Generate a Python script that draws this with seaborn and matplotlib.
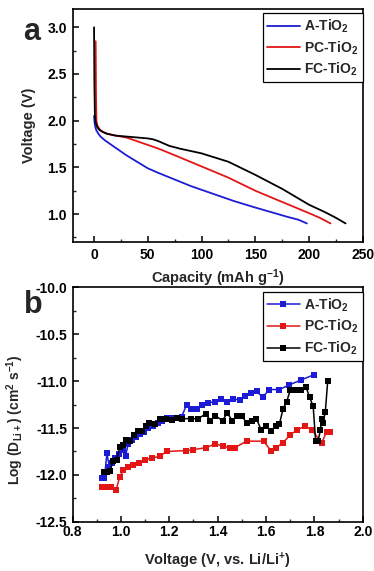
import matplotlib as mpl
mpl.use('Agg')
import matplotlib.pyplot as plt
import seaborn as sns
import pandas as pd
from matplotlib.ticker import MultipleLocator

# ---- panel a: discharge curves ----
cap_A = [0, 0.5, 1, 2, 4, 6, 8, 10, 15, 20, 25, 30, 40, 50, 60, 75, 90, 100,
         115, 130, 150, 165, 180, 190, 198]
volt_A = [2.05, 1.98, 1.94, 1.90, 1.86, 1.83, 1.81, 1.79, 1.75, 1.71, 1.67, 1.63,
          1.56, 1.49, 1.44, 1.37, 1.30, 1.26, 1.20, 1.14, 1.07, 1.02, 0.97, 0.94, 0.90]

cap_PC = [1.5, 1.8, 2.2, 3, 5, 8, 12, 20, 30, 40, 50, 60, 75, 100, 125, 150,
          175, 200, 210, 220]
volt_PC = [2.85, 2.3, 2.0, 1.95, 1.91, 1.88, 1.86, 1.84, 1.82, 1.78, 1.74, 1.70,
           1.63, 1.51, 1.39, 1.25, 1.13, 1.01, 0.96, 0.90]

cap_FC = [0, 0.3, 0.8, 1.5, 3, 5, 8, 12, 20, 30, 40, 50, 55, 60, 70, 80, 100,
          125, 150, 175, 200, 215, 225, 234]
volt_FC = [3.0, 2.4, 2.05, 1.98, 1.93, 1.90, 1.88, 1.86, 1.84, 1.83, 1.82, 1.81,
           1.80, 1.78, 1.73, 1.70, 1.65, 1.56, 1.42, 1.27, 1.10, 1.02, 0.96, 0.90]

# ---- panel b: diffusion coefficients ----
v_A = [0.923, 0.932, 0.942, 0.952, 0.963, 0.975, 0.993, 1.010, 1.019, 1.030, 1.044,
       1.062, 1.079, 1.097, 1.113, 1.134, 1.152, 1.168, 1.189, 1.210, 1.230, 1.251,
       1.272, 1.288, 1.313, 1.337, 1.361, 1.389, 1.414, 1.437, 1.462, 1.492, 1.513,
       1.537, 1.561, 1.586, 1.614, 1.655, 1.697, 1.743, 1.800]
d_A = [-12.03, -12.03, -11.77, -11.91, -11.87, -11.82, -11.78, -11.73, -11.80, -11.67,
       -11.63, -11.60, -11.56, -11.54, -11.50, -11.48, -11.45, -11.43, -11.39, -11.39,
       -11.39, -11.38, -11.25, -11.30, -11.30, -11.26, -11.23, -11.22, -11.19, -11.22,
       -11.19, -11.20, -11.16, -11.13, -11.11, -11.17, -11.09, -11.09, -11.04, -10.99,
       -10.93]

v_PC = [0.92, 0.93, 0.94, 0.95, 0.96, 0.98, 0.995, 1.01, 1.03, 1.05, 1.075, 1.10,
        1.13, 1.16, 1.19, 1.27, 1.30, 1.35, 1.39, 1.42, 1.45, 1.47, 1.52, 1.59,
        1.62, 1.64, 1.67, 1.70, 1.73, 1.76, 1.79, 1.83, 1.85, 1.865]
d_PC = [-12.13, -12.13, -12.13, -12.13, -12.13, -12.16, -12.02, -11.95, -11.91,
        -11.89, -11.87, -11.84, -11.82, -11.80, -11.75, -11.74, -11.73, -11.71,
        -11.67, -11.69, -11.71, -11.71, -11.64, -11.64, -11.74, -11.71, -11.66,
        -11.57, -11.52, -11.48, -11.52, -11.66, -11.54, -11.54]

v_FC = [0.931, 0.942, 0.954, 0.968, 0.982, 0.996, 1.010, 1.021, 1.037, 1.054, 1.072,
        1.086, 1.103, 1.117, 1.141, 1.161, 1.186, 1.210, 1.230, 1.251, 1.29, 1.32,
        1.35, 1.37, 1.39, 1.42, 1.44, 1.46, 1.48, 1.50, 1.52, 1.54, 1.56, 1.58, 1.60,
        1.62, 1.64, 1.655, 1.67, 1.685, 1.70, 1.725, 1.745, 1.765, 1.78, 1.795, 1.805,
        1.815, 1.825, 1.83, 1.835, 1.845, 1.855]
d_FC = [-11.97, -11.97, -11.96, -11.85, -11.84, -11.70, -11.68, -11.63, -11.64,
        -11.57, -11.53, -11.53, -11.48, -11.45, -11.46, -11.40, -11.40, -11.41,
        -11.39, -11.40, -11.40, -11.40, -11.35, -11.42, -11.37, -11.42, -11.34,
        -11.42, -11.37, -11.37, -11.45, -11.42, -11.40, -11.52, -11.48, -11.53,
        -11.48, -11.46, -11.30, -11.22, -11.10, -11.10, -11.10, -11.06, -11.17,
        -11.27, -11.64, -11.64, -11.52, -11.40, -11.45, -11.33, -11.00]

labels = ['A-TiO$_2$', 'PC-TiO$_2$', 'FC-TiO$_2$']
colors = ['#1c1cd6', '#e41515', '#000000']

sns.set_style('ticks')
plt.rcParams['font.family'] = ['Liberation Sans', 'DejaVu Sans']
plt.rcParams['font.weight'] = 'bold'
plt.rcParams['axes.labelweight'] = 'bold'
plt.rcParams['axes.unicode_minus'] = False
plt.rcParams['mathtext.fontset'] = 'custom'
plt.rcParams['mathtext.rm'] = 'Liberation Sans:bold'
plt.rcParams['mathtext.it'] = 'Liberation Sans:bold'
plt.rcParams['mathtext.bf'] = 'Liberation Sans:bold'
plt.rcParams['mathtext.default'] = 'rm'

fig = plt.figure(figsize=(3.74, 5.71), dpi=100)
ax1 = fig.add_axes([0.194, 0.576, 0.776, 0.409])
ax2 = fig.add_axes([0.194, 0.086, 0.776, 0.411])

curves = [(cap_A, volt_A), (cap_PC, volt_PC), (cap_FC, volt_FC)]
for (x, y), lab, col in zip(curves, labels, colors):
    df = pd.DataFrame({'x': x, 'y': y})
    sns.lineplot(data=df, x='x', y='y', ax=ax1, color=col, lw=1.3, sort=False,
                 estimator=None, label=lab)

diff = [(v_A, d_A), (v_PC, d_PC), (v_FC, d_FC)]
for (x, y), lab, col in zip(diff, labels, colors):
    df = pd.DataFrame({'x': x, 'y': y})
    sns.lineplot(data=df, x='x', y='y', ax=ax2, color=col, lw=1.1, sort=False,
                 estimator=None, marker='s', markersize=4, markeredgewidth=0,
                 label=lab)

ax1.set_xlim(-20, 250)
ax1.set_ylim(0.7, 3.2)
ax1.xaxis.set_major_locator(MultipleLocator(50))
ax1.xaxis.set_minor_locator(MultipleLocator(25))
ax1.yaxis.set_major_locator(MultipleLocator(0.5))
ax1.yaxis.set_minor_locator(MultipleLocator(0.25))
ax1.set_xlabel('Capacity (mAh g$^{-1}$)', fontsize=10.5, labelpad=4)
ax1.set_ylabel('Voltage (V)', fontsize=10.5, labelpad=8)

ax2.set_xlim(0.8, 2.0)
ax2.set_ylim(-12.5, -10.0)
ax2.xaxis.set_major_locator(MultipleLocator(0.2))
ax2.xaxis.set_minor_locator(MultipleLocator(0.1))
ax2.yaxis.set_major_locator(MultipleLocator(0.5))
ax2.yaxis.set_minor_locator(MultipleLocator(0.25))
ax2.set_xlabel('Voltage (V, vs. Li/Li$^{+}$)', fontsize=10.5, labelpad=9)
ax2.set_ylabel('Log (D$_{\\mathrm{Li+}}$) (cm$^{2}$ s$^{-1}$)', fontsize=10, labelpad=4)
ax2.yaxis.set_label_coords(-0.16, 0.435)

for ax in (ax1, ax2):
    for s in ax.spines.values():
        s.set_linewidth(1.2)
        s.set_color('black')
    ax.tick_params(which='major', direction='in', length=4, width=1.1,
                   labelsize=10, pad=4, colors='black')
    ax.tick_params(which='minor', direction='in', length=2.5, width=1.0)
    ax.tick_params(top=False, right=False)
    leg = ax.legend(loc='upper right', bbox_to_anchor=(1.0, 0.979), borderaxespad=0,
                    fancybox=False, framealpha=1, edgecolor='black', fontsize=10,
                    handlelength=2.4, handletextpad=0.3, labelspacing=0.3,
                    borderpad=0.3, numpoints=1)
    leg.get_frame().set_linewidth(0.9)
ax2.tick_params(axis='x', which='major', pad=2)

fig.text(0.085, 0.944, 'a', fontsize=22, fontweight='bold', va='center', ha='center')
fig.text(0.088, 0.466, 'b', fontsize=22, fontweight='bold', va='center', ha='center')

fig.savefig('out.png', dpi=100)
